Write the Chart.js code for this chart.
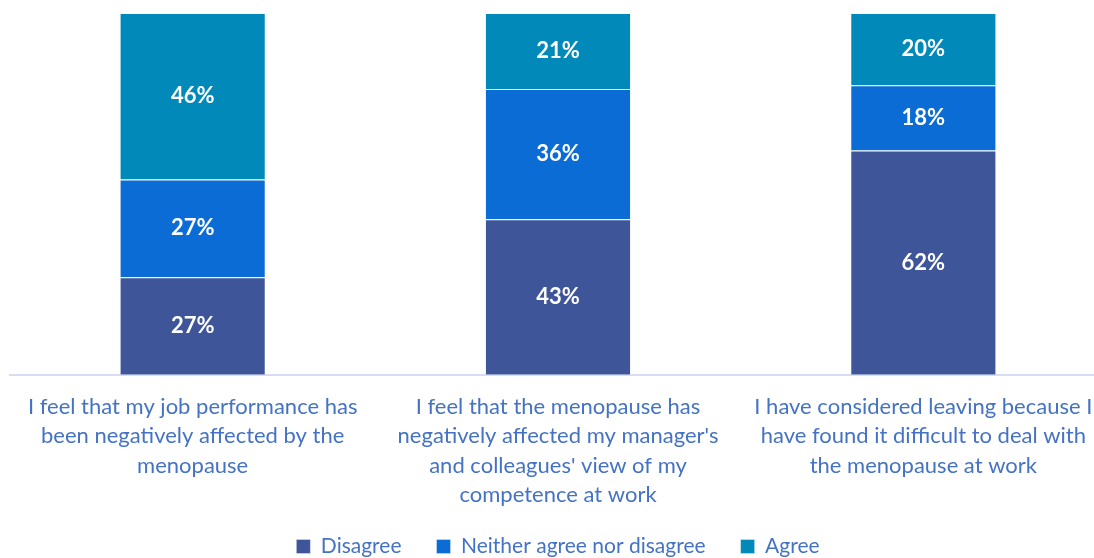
<!DOCTYPE html>
<html>
<head>
<meta charset="utf-8">
<script src="https://cdn.jsdelivr.net/npm/chart.js@4"></script>
<style>
  html, body { margin: 0; padding: 0; background: #fff; overflow: hidden; }
  .wrap { width: 1106px; height: 558px; }
</style>
</head>
<body>
<div class="wrap"><canvas id="chart"></canvas></div>
<script>
// categories (already split into lines like the original)
const categories = [
  ["I feel that my job performance has", "been negatively affected by the", "menopause"],
  ["I feel that the menopause has", "negatively affected my manager's", "and colleagues' view of my", "competence at work"],
  ["I have considered leaving because I", "have found it difficult to deal with", "the menopause at work"]
];
const disagree = [27, 43, 62];
const neither = [27, 36, 18];
const agree = [46, 21, 20];

const labelColor = "#4472C4";
const fontFamily = "Lato, 'Open Sans', sans-serif";

// draws the white % labels in the middle of each segment
const barLabels = {
  id: "barLabels",
  afterDatasetsDraw(chart) {
    const ctx = chart.ctx;
    ctx.save();
    ctx.fillStyle = "#fff";
    ctx.font = "bold 22px " + fontFamily;
    ctx.textAlign = "center";
    ctx.textBaseline = "middle";
    chart.data.datasets.forEach((ds, i) => {
      chart.getDatasetMeta(i).data.forEach((bar, j) => {
        const mid = (bar.y + bar.base) / 2;
        ctx.fillText(ds.data[j] + "%", bar.x, mid);
      });
    });
    ctx.restore();
  }
};

// legend padding is big for the gaps between items, so take some height back
// and pull the legend box up again (bottom stays so nothing gets clipped)
const tightLegend = {
  id: "tightLegend",
  beforeInit(chart) {
    const fit = chart.legend.fit;
    chart.legend.fit = function () {
      fit.call(this);
      this.height -= 27;
    };
  },
  afterLayout(chart) {
    chart.legend.top -= 18;
  }
};

new Chart(document.getElementById("chart"), {
  type: "bar",
  data: {
    labels: categories,
    datasets: [
      { label: "Disagree", data: disagree, backgroundColor: "#3E5599" },
      { label: "Neither agree nor disagree", data: neither, backgroundColor: "#0B6CD6" },
      { label: "Agree", data: agree, backgroundColor: "#0089B9" }
    ]
  },
  options: {
    responsive: true,
    maintainAspectRatio: false,
    animation: false,
    layout: { padding: { left: 10, right: 0, top: 13, bottom: 0 } },
    datasets: {
      bar: {
        categoryPercentage: 1,
        barPercentage: 0.4,
        borderColor: "rgba(255,255,255,0.35)",
        borderWidth: 1
      }
    },
    plugins: {
      legend: {
        position: "bottom",
        labels: {
          color: labelColor,
          font: { family: fontFamily, size: 21 },
          boxWidth: 14,
          boxHeight: 14,
          padding: 35
        }
      },
      tooltip: { enabled: false }
    },
    scales: {
      x: {
        stacked: true,
        grid: { display: false },
        border: { color: "#D6DFF2", width: 2 },
        ticks: {
          color: labelColor,
          font: { family: fontFamily, size: 22, lineHeight: 1.32 },
          maxRotation: 0,
          padding: 10
        }
      },
      y: {
        stacked: true,
        display: false,
        min: 0,
        max: 100
      }
    }
  },
  plugins: [barLabels, tightLegend]
});
</script>
</body>
</html>
